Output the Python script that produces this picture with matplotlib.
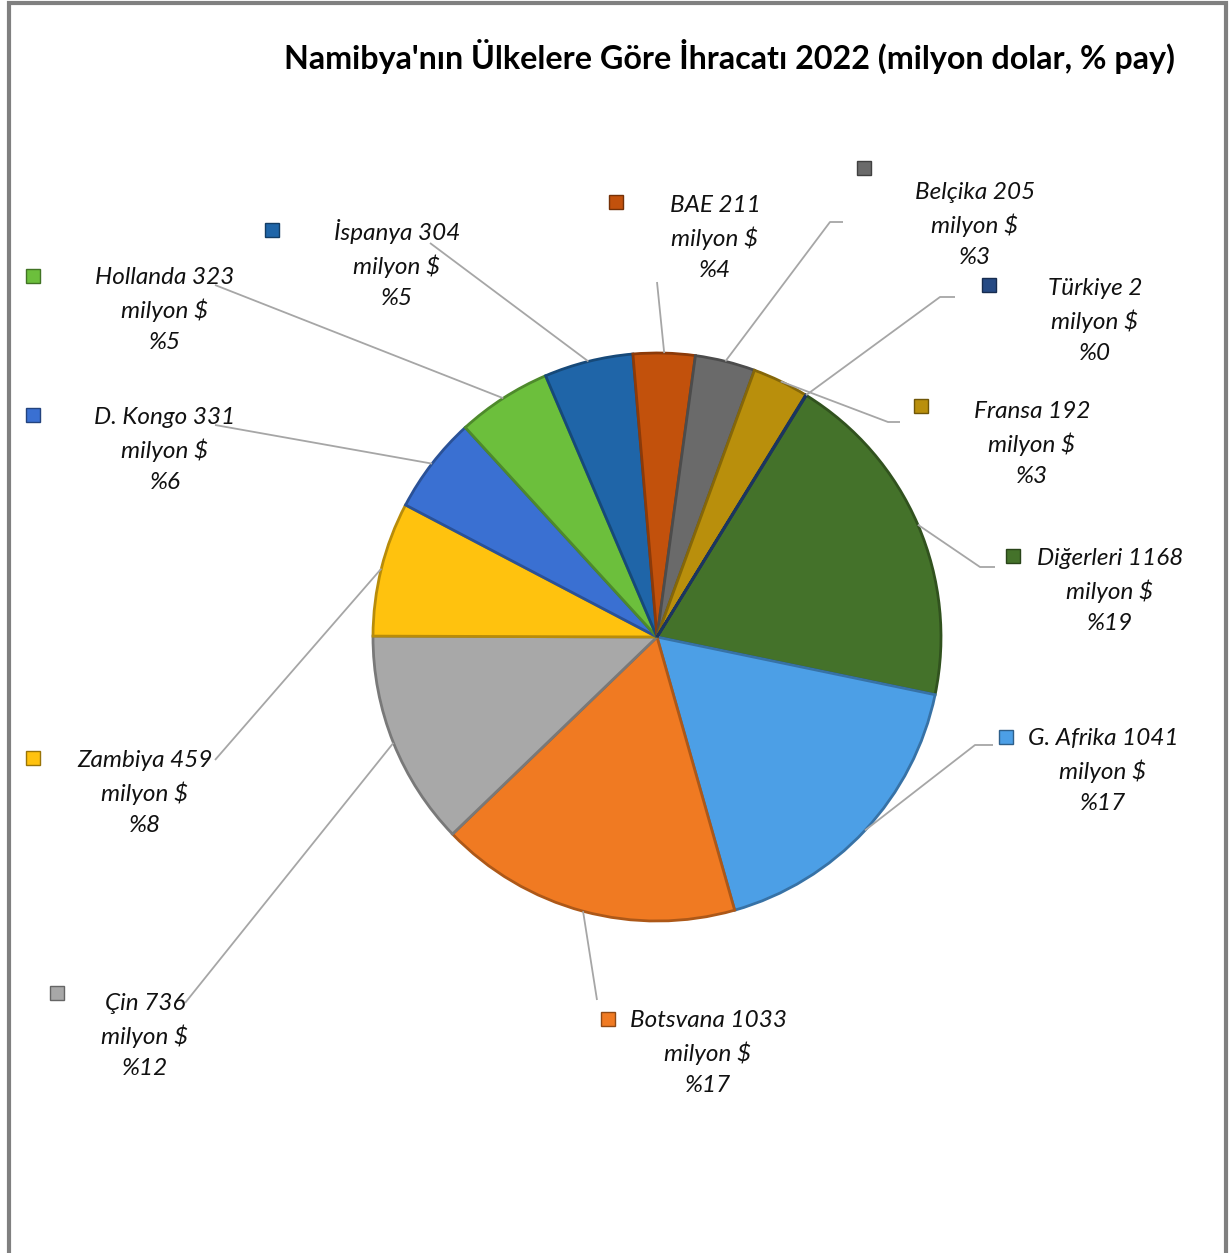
import numpy as np
import matplotlib.pyplot as plt
from matplotlib.patches import Rectangle
import matplotlib.colors as mcolors

plt.rcParams['font.family'] = ['Lato', 'DejaVu Sans']

# data, clockwise from the big green slice
countries = ['Diğerleri', 'G. Afrika', 'Botsvana', 'Çin', 'Zambiya', 'D. Kongo',
             'Hollanda', 'İspanya', 'BAE', 'Belçika', 'Fransa', 'Türkiye']
values = [1168, 1041, 1033, 736, 459, 331, 323, 304, 211, 205, 192, 2]
colors = ['#44722a', '#4c9fe6', '#f07a22', '#a8a8a8', '#ffc20e', '#3a70d2',
          '#6cbf3c', '#1f65a8', '#c2510c', '#6a6a6a', '#b98f0c', '#264a84']
title = "Namibya'nın Ülkelere Göre İhracatı 2022 (milyon dolar, % pay)"

W, H = 1231, 1253
cx, cy, R = 657, 637, 284

# label layout in pixel coords (x, y from top)
text_pos = {'Diğerleri': (1110, 591), 'G. Afrika': (1103, 771), 'Botsvana': (708, 1053),
            'Çin': (145, 1036), 'Zambiya': (145, 793), 'D. Kongo': (165, 450),
            'Hollanda': (165, 310), 'İspanya': (397, 264), 'BAE': (715, 238),
            'Belçika': (975, 225), 'Fransa': (1032, 444), 'Türkiye': (1095, 321)}
marker_pos = {'Diğerleri': (1013, 556), 'G. Afrika': (1006, 737), 'Botsvana': (608, 1019),
              'Çin': (57, 993), 'Zambiya': (33, 758), 'D. Kongo': (33, 415),
              'Hollanda': (33, 276), 'İspanya': (272, 230), 'BAE': (616, 202),
              'Belçika': (864, 168), 'Fransa': (921, 406), 'Türkiye': (989, 285)}
line_start = {'Diğerleri': [(995, 567), (980, 567)], 'G. Afrika': [(993, 745), (975, 745)],
              'Botsvana': [(597, 1000)], 'Çin': [(185, 1003)], 'Zambiya': [(215, 760)],
              'D. Kongo': [(215, 425)], 'Hollanda': [(215, 285)], 'İspanya': [(430, 243)],
              'BAE': [(657, 282)], 'Belçika': [(843, 222), (830, 222)],
              'Fransa': [(900, 422), (888, 422)], 'Türkiye': [(955, 297), (940, 297)]}


def darker(c, f=0.7):
    r, g, b = mcolors.to_rgb(c)
    return (r * f, g * f, b * f)


fig = plt.figure(figsize=(W / 100, H / 100), dpi=100)
ax = fig.add_axes([0, 0, 1, 1])

total = sum(values)
start = 90 - 31.7
wedges, _ = ax.pie(values, colors=colors, startangle=start, counterclock=False,
                   center=(cx, H - cy), radius=R,
                   wedgeprops=dict(linewidth=2, edgecolor='white'))
for w, c in zip(wedges, colors):
    w.set_edgecolor(darker(c, 0.72))

ax.set_xlim(0, W)
ax.set_ylim(0, H)
ax.set_aspect('auto')
ax.axis('off')

for w, name, v, c in zip(wedges, countries, values, colors):
    mid = np.deg2rad((w.theta1 + w.theta2) / 2)
    ax_pt = (cx + R * np.cos(mid), H - cy + R * np.sin(mid))
    pts = [(x, H - y) for x, y in line_start[name]] + [ax_pt]
    xs, ys = zip(*pts)
    ax.plot(xs, ys, color='#a6a6a6', lw=1.3, zorder=1, solid_capstyle='butt')
    tx, ty = text_pos[name]
    pct = round(v / total * 100)
    ax.text(tx, H - ty, f'{name} {v}\nmilyon $\n%{pct}', ha='center', va='center',
            fontsize=17.5, style='italic', linespacing=1.58, color='#111111')
    mx, my = marker_pos[name]
    ax.add_patch(Rectangle((mx - 7, H - my - 7), 14, 14, facecolor=c,
                           edgecolor=darker(c, 0.6), lw=1))

ax.text(1175, H - 56, title, ha='right', va='center', fontsize=23.2, fontweight='bold')

# outer frame
ax.plot([9, 9, 1226, 1226], [0, H - 3, H - 3, 0], color='#808080', lw=3,
        solid_joinstyle='miter')

fig.savefig('out.png', dpi=100)
